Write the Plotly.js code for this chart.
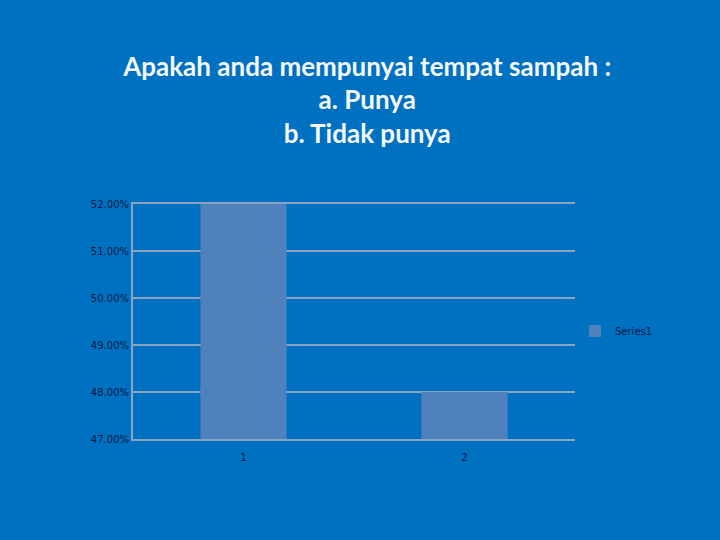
<!DOCTYPE html>
<html>
<head>
<meta charset="utf-8">
<script src="https://cdn.plot.ly/plotly-3.0.1.min.js"></script>
<style>
  html, body { margin: 0; padding: 0; background: #0070C0; }
  #chart { width: 720px; height: 540px; }
</style>
</head>
<body>
<div id="chart"></div>
<script>
// Data
const categories = ["1", "2"];
const series1 = [0.52, 0.48];
const seriesName = "Series1";
const titleLines = ["Apakah anda mempunyai tempat sampah :", "a. Punya", "b. Tidak punya"];

const BG = "#0070C0";
const GRID = "#8DA3BF";
const TICK = "#0A1A45";

const traces = [{
  type: "bar",
  name: seriesName,
  x: categories,
  y: series1,
  width: 0.39,
  marker: { color: "#4F81BD" },
  showlegend: true,
  hoverinfo: "skip"
}];

const layout = {
  width: 720,
  height: 540,
  paper_bgcolor: BG,
  plot_bgcolor: BG,
  margin: { l: 133, r: 145, t: 204, b: 101 },
  title: {
    text: titleLines.join("<br>"),
    font: { family: "Lato, 'Open Sans', sans-serif", size: 26, color: "#F4F8FC", weight: "bold" },
    x: 0.51,
    xanchor: "center",
    y: 0.86,
    yref: "container",
    yanchor: "top"
  },
  xaxis: {
    type: "category",
    showgrid: false,
    showline: true,
    mirror: true,
    linecolor: GRID,
    linewidth: 2,
    ticks: "",
    ticklabelstandoff: 8,
    tickfont: { family: "'DejaVu Sans', sans-serif", size: 10, color: TICK },
    zeroline: false
  },
  yaxis: {
    range: [0.47, 0.52],
    dtick: 0.01,
    tickformat: ".2%",
    showgrid: true,
    gridcolor: GRID,
    gridwidth: 2,
    showline: true,
    linecolor: GRID,
    linewidth: 2,
    ticks: "",
    tickfont: { family: "'DejaVu Sans', sans-serif", size: 10, color: TICK },
    zeroline: false
  },
  showlegend: true,
  legend: {
    x: 1.0,
    xanchor: "left",
    y: 0.46,
    yanchor: "middle",
    bgcolor: "rgba(0,0,0,0)",
    font: { family: "'DejaVu Sans', sans-serif", size: 10, color: TICK },
    itemwidth: 30
  },
  bargap: 0.61
};

Plotly.newPlot("chart", traces, layout, { displayModeBar: false, staticPlot: true });
</script>
</body>
</html>
